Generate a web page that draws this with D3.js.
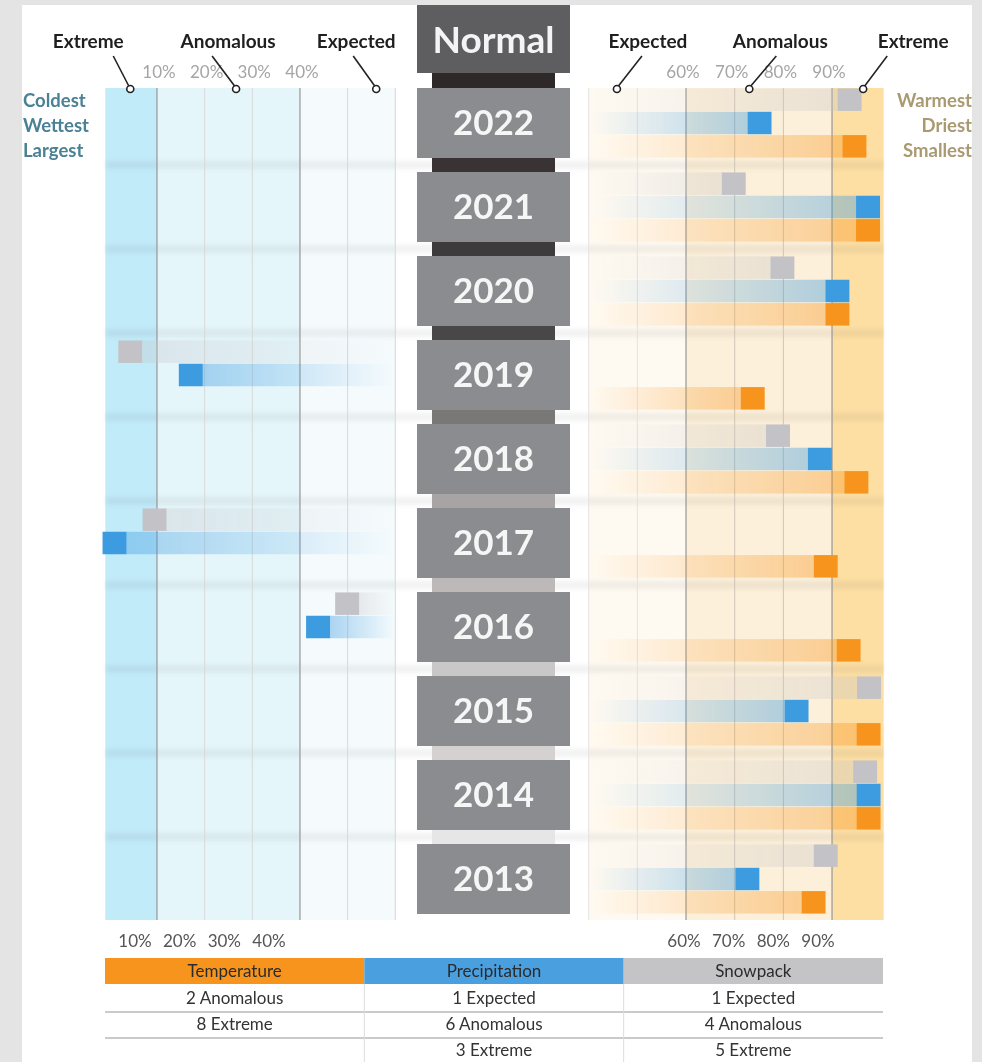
<!DOCTYPE html>
<html><head><meta charset="utf-8">
<script src="https://cdn.jsdelivr.net/npm/d3@7"></script>
<style>html,body{margin:0;padding:0;background:#e4e4e4;}svg{display:block;font-family:Lato,"Open Sans",sans-serif;}</style>
</head><body>
<script>
// ---- data ----
const years = [2022, 2021, 2020, 2019, 2018, 2017, 2016, 2015, 2014, 2013];
const snowpack      = [93.6, 69.8, 79.8, 4.4, 78.9, 9.5, 49.9, 97.6, 96.8, 88.7];
const precipitation = [75.1, 97.4, 91.1, 17.1, 87.5, 1.1, 43.8, 82.7, 97.5, 72.6];
const temperature   = [94.6, 97.4, 91.1, 73.7, 95.0, 88.7, 93.4, 97.5, 97.5, 86.2];
const seriesNames = ["snowpack", "precipitation", "temperature"];
const leftTicks = [10, 20, 30, 40];
const rightTicks = [60, 70, 80, 90];
const leftAnnotations = ["Extreme", "Anomalous", "Expected"];
const leftAnnotationValues = [4.4, 26.6, 56];
const rightAnnotations = ["Expected", "Anomalous", "Extreme"];
const rightAnnotationValues = [45.8, 73, 96.4];
const leftSideLabels = ["Coldest", "Wettest", "Largest"];
const rightSideLabels = ["Warmest", "Driest", "Smallest"];
const tableHeaders = ["Temperature", "Precipitation", "Snowpack"];
const tableTemperature = ["2 Anomalous", "8 Extreme"];
const tablePrecipitation = ["1 Expected", "6 Anomalous", "3 Extreme"];
const tableSnowpack = ["1 Expected", "4 Anomalous", "5 Extreme"];

// ---- styles / layout ----
const colors = {temperature: "#f7941d", precipitation: "#3d9be0", snowpack: "#c3c3c7"};
const tailOpacity = {temperature: 0.38, precipitation: 0.4, snowpack: 0.32};
const connectorColors = ["#2e2829", "#3a3334", "#3e3b3c", "#4a4748", "#7a7777", "#a9a4a4", "#bdb9b9", "#c9c7c7", "#d5d1d1", "#e6e6e6"];
const leftLabelOffsets = [-42, -8, -20], leftLineOffsets = [-17, -24, -23];
const rightLabelOffsets = [31, 31, 50], rightLineOffsets = [25, 27, 24];

const W = 982, H = 1062;
const svg = d3.select("body").append("svg").attr("width", W).attr("height", H);
const defs = svg.append("defs");
defs.append("filter").attr("id", "blur").attr("x", "-5%").attr("y", "-100%").attr("width", "110%").attr("height", "300%")
  .append("feGaussianBlur").attr("stdDeviation", 2);

svg.append("rect").attr("width", W).attr("height", H).attr("fill", "#e4e4e4");
svg.append("rect").attr("x", 22).attr("y", 5).attr("width", 950).attr("height", H - 5).attr("fill", "#ffffff");

const xL = d3.scaleLinear().domain([0, 60]).range([109.3, 395.3]);
const xR = d3.scaleLinear().domain([40, 100]).range([588.7, 880.7]);
const xPos = v => v < 50 ? xL(v) : xR(v);

const chartTop = 88, chartBottom = 920;
const yBand = d3.scaleBand().domain(years).range([chartTop, 914]).paddingInner(1 / 6).paddingOuter(0);
const yRow = d3.scaleBand().domain(seriesNames).range([0, yBand.bandwidth()]);

// ---- background bands ----
const bands = [
  {x0: xL(0) - 4, x1: xL(10), c: "#c2ebfa"},
  {x0: xL(10), x1: xL(40), c: "#e5f6fb"},
  {x0: xL(40), x1: xL(60), c: "#f5fbfd"},
  {x0: xR(40), x1: xR(60), c: "#fffaf1"},
  {x0: xR(60), x1: xR(90), c: "#fdf0da"},
  {x0: xR(90), x1: xR(100) + 3, c: "#fddfa4"}
];
svg.append("g").selectAll("rect").data(bands).join("rect")
  .attr("x", d => d.x0).attr("width", d => d.x1 - d.x0)
  .attr("y", chartTop).attr("height", chartBottom - chartTop).attr("fill", d => d.c);

// faint blurred horizontal stripes at connectors
const stripeYs = years.slice(0, -1).map(y => yBand(y) + yBand.bandwidth());
svg.append("g").attr("filter", "url(#blur)").selectAll("rect").data(stripeYs).join("rect")
  .attr("x", xL(0) - 4).attr("width", xR(100) + 7 - xL(0))
  .attr("y", d => d + 3).attr("height", 8).attr("fill", "#000").attr("opacity", 0.05);

// gridlines
const gridL = [10, 20, 30, 40, 50, 60], gridR = [40, 50, 60, 70, 80, 90];
svg.append("g").selectAll("line").data(gridL).join("line")
  .attr("x1", d => xL(d)).attr("x2", d => xL(d)).attr("y1", chartTop).attr("y2", chartBottom)
  .attr("stroke", d => (d === 10 || d === 40) ? "#9c9c9c" : "#d8d8d8").attr("stroke-width", d => (d === 10 || d === 40) ? 1.3 : 1);
svg.append("g").selectAll("line").data(gridR).join("line")
  .attr("x1", d => xR(d)).attr("x2", d => xR(d)).attr("y1", chartTop).attr("y2", chartBottom)
  .attr("stroke", d => (d === 60 || d === 90) ? "#9c9c9c" : (d >= 70 ? "#cfc6b6" : "#e2e2e2"))
  .attr("stroke-width", d => (d === 60 || d === 90) ? 1.3 : 1);

// ---- marks ----
const seriesValues = {snowpack, precipitation, temperature};
const marks = [];
years.forEach((yr, i) => seriesNames.forEach(s => marks.push({year: yr, series: s, value: seriesValues[s][i], id: "g" + yr + s})));
const sq = 24, sqH = 22.5;

marks.forEach(m => {
  const left = m.value < 50;
  const g = defs.append("linearGradient").attr("id", m.id)
    .attr("x1", left ? "0%" : "100%").attr("x2", left ? "100%" : "0%").attr("y1", "0%").attr("y2", "0%");
  const a = tailOpacity[m.series];
  g.append("stop").attr("offset", "0%").attr("stop-color", colors[m.series]).attr("stop-opacity", a);
  g.append("stop").attr("offset", "40%").attr("stop-color", colors[m.series]).attr("stop-opacity", a * 0.6);
  g.append("stop").attr("offset", "100%").attr("stop-color", colors[m.series]).attr("stop-opacity", 0);
});

const markG = svg.append("g");
markG.selectAll("rect.tail").data(marks).join("rect").attr("class", "tail")
  .attr("x", d => d.value < 50 ? xPos(d.value) + sq / 2 : xR(40))
  .attr("width", d => d.value < 50 ? Math.max(0, xL(60) - xPos(d.value) - sq / 2) : Math.max(0, xPos(d.value) - sq / 2 - xR(40)))
  .attr("y", d => yBand(d.year) + yRow(d.series) + (yRow.bandwidth() - sqH) / 2)
  .attr("height", sqH)
  .attr("fill", d => `url(#${d.id})`);
markG.selectAll("rect.sq").data(marks).join("rect").attr("class", "sq")
  .attr("x", d => xPos(d.value) - sq / 2).attr("width", sq)
  .attr("y", d => yBand(d.year) + yRow(d.series) + (yRow.bandwidth() - sqH) / 2)
  .attr("height", sqH)
  .attr("fill", d => colors[d.series]);

// ---- center column ----
const boxX = 417, boxW = 153, connX = 432, connW = 123;
const normalTop = 5, normalBottom = 73;
const connectors = [{y0: normalBottom, y1: yBand(years[0])}].concat(
  years.slice(0, -1).map((y, i) => ({y0: yBand(y) + yBand.bandwidth(), y1: yBand(years[i + 1])})));
svg.append("g").selectAll("rect").data(connectors).join("rect")
  .attr("x", connX).attr("width", connW).attr("y", d => d.y0).attr("height", d => d.y1 - d.y0)
  .attr("fill", (d, i) => connectorColors[i]);

svg.append("rect").attr("x", boxX).attr("y", normalTop).attr("width", boxW).attr("height", normalBottom - normalTop).attr("fill", "#5e5e60");
svg.append("text").attr("x", boxX + boxW / 2).attr("y", 53).attr("text-anchor", "middle")
  .attr("fill", "#f4f4f4").attr("font-weight", 700).attr("font-size", 37).text("Normal");

const yearG = svg.append("g").selectAll("g").data(years).join("g");
yearG.append("rect").attr("x", boxX).attr("width", boxW).attr("y", d => yBand(d)).attr("height", yBand.bandwidth()).attr("fill", "#8b8c8f");
yearG.append("text").attr("x", boxX + boxW / 2).attr("y", d => yBand(d) + yBand.bandwidth() / 2 + 12)
  .attr("text-anchor", "middle").attr("fill", "#f6f6f6").attr("font-weight", 700).attr("font-size", 35).text(d => d);

// ---- axis labels ----
const topY = 78;
svg.append("g").selectAll("text").data(leftTicks).join("text")
  .attr("x", d => xL(d) + 2).attr("y", topY).attr("text-anchor", "middle").attr("fill", "#a5a5a5").attr("font-size", 17).text(d => d + "%");
svg.append("g").selectAll("text").data(rightTicks).join("text")
  .attr("x", d => xR(d) - 3).attr("y", topY).attr("text-anchor", "middle").attr("fill", "#a5a5a5").attr("font-size", 17).text(d => d + "%");
const botL = d3.scaleLinear().domain([10, 40]).range([135, 269]);
const botR = d3.scaleLinear().domain([60, 90]).range([684, 818]);
svg.append("g").selectAll("text").data(leftTicks).join("text")
  .attr("x", d => botL(d)).attr("y", 947).attr("text-anchor", "middle").attr("fill", "#555").attr("font-size", 17).text(d => d + "%");
svg.append("g").selectAll("text").data(rightTicks).join("text")
  .attr("x", d => botR(d)).attr("y", 947).attr("text-anchor", "middle").attr("fill", "#555").attr("font-size", 17).text(d => d + "%");

// ---- annotations ----
function annotate(names, vals, side, labelOff, lineOff) {
  const g = svg.append("g");
  names.forEach((n, i) => {
    const cx = side === "left" ? xL(vals[i]) : xR(vals[i]);
    const sgn = side === "left" ? -1 : 1;
    g.append("line").attr("x1", cx + lineOff[i]).attr("y1", 56).attr("x2", cx + sgn * 1.5).attr("y2", 86)
      .attr("stroke", "#222").attr("stroke-width", 1.6);
    g.append("circle").attr("cx", cx).attr("cy", 89).attr("r", 3.5).attr("fill", "#fff").attr("stroke", "#222").attr("stroke-width", 1.6);
    g.append("text").attr("x", cx + labelOff[i]).attr("y", 48).attr("text-anchor", "middle")
      .attr("fill", "#1f1f1f").attr("font-weight", 700).attr("font-size", 19).text(n);
  });
}
annotate(leftAnnotations, leftAnnotationValues, "left", leftLabelOffsets, leftLineOffsets);
annotate(rightAnnotations, rightAnnotationValues, "right", rightLabelOffsets, rightLineOffsets);

svg.append("g").selectAll("text").data(leftSideLabels).join("text")
  .attr("x", 23).attr("y", (d, i) => 107 + i * 25).attr("fill", "#4b8194").attr("font-weight", 700).attr("font-size", 18.5).text(d => d);
svg.append("g").selectAll("text").data(rightSideLabels).join("text")
  .attr("x", 972).attr("y", (d, i) => 107 + i * 25).attr("text-anchor", "end").attr("fill", "#a99a72").attr("font-weight", 700).attr("font-size", 18.5).text(d => d);

// ---- table ----
const tx = d3.scaleBand().domain(tableHeaders).range([105, 883]);
const headColors = ["#f7941d", "#4a9fdf", "#c4c4c6"];
const tg = svg.append("g");
tg.selectAll("rect").data(tableHeaders).join("rect")
  .attr("x", d => tx(d)).attr("width", tx.bandwidth()).attr("y", 958).attr("height", 26).attr("fill", (d, i) => headColors[i]);
tg.selectAll("text.h").data(tableHeaders).join("text").attr("class", "h")
  .attr("x", d => tx(d) + tx.bandwidth() / 2).attr("y", 977).attr("text-anchor", "middle").attr("fill", "#2b2b2b").attr("font-size", 17).text(d => d);
const rowYs = [998, 1024, 1050];
tg.selectAll("line.r").data([1012, 1038]).join("line").attr("class", "r")
  .attr("x1", 105).attr("x2", 883).attr("y1", d => d).attr("y2", d => d).attr("stroke", "#b8b8b8").attr("stroke-width", 1.5);
tg.selectAll("line.v").data([tableHeaders[1], tableHeaders[2]]).join("line").attr("class", "v")
  .attr("x1", d => tx(d)).attr("x2", d => tx(d)).attr("y1", 984).attr("y2", H).attr("stroke", "#dcdcdc").attr("stroke-width", 1);
[tableTemperature, tablePrecipitation, tableSnowpack].forEach((col, ci) => {
  tg.append("g").selectAll("text").data(col).join("text")
    .attr("x", tx(tableHeaders[ci]) + tx.bandwidth() / 2).attr("y", (d, i) => rowYs[i] + 6)
    .attr("text-anchor", "middle").attr("fill", "#333").attr("font-size", 17).text(d => d);
});
</script>
</body></html>
